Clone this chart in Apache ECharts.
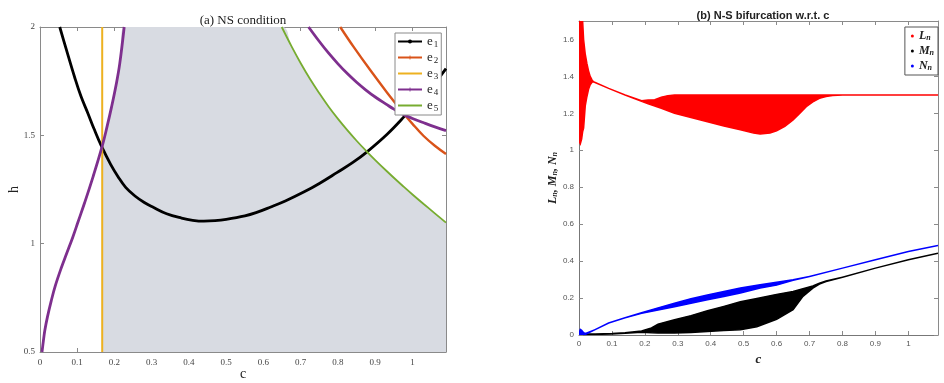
<!DOCTYPE html>
<html>
<head>
<meta charset="utf-8">
<script src="https://cdn.jsdelivr.net/npm/echarts@6/dist/echarts.min.js"></script>
<style>
  html, body { margin: 0; padding: 0; background: #fff; }
  #chart { width: 944px; height: 383px; }
</style>
</head>
<body>
<div id="chart"></div>
<script>
// panel (a): NS condition curves
const e1C = [0.053, 0.07, 0.093, 0.11, 0.129, 0.145, 0.165, 0.19, 0.21, 0.23, 0.255, 0.28, 0.304, 0.34, 0.38, 0.41, 0.44, 0.47, 0.50, 0.55, 0.58, 0.618, 0.66, 0.708, 0.75, 0.797, 0.84, 0.878, 0.932, 0.977, 1.02, 1.066, 1.09]
const e1H = [2.0, 1.9, 1.768, 1.68, 1.60, 1.53, 1.45, 1.365, 1.308, 1.26, 1.22, 1.19, 1.168, 1.138, 1.118, 1.108, 1.104, 1.106, 1.112, 1.128, 1.143, 1.168, 1.198, 1.238, 1.278, 1.328, 1.375, 1.424, 1.505, 1.585, 1.668, 1.755, 1.808]

const e2C = [0.806, 0.842, 0.887, 0.932, 0.977, 1.0, 1.03, 1.06, 1.09]
const e2H = [2.0, 1.908, 1.80, 1.697, 1.60, 1.553, 1.497, 1.452, 1.414]

const e3C = 0.167
const e3H = [0.5, 2.0]

const e4LeftC = [0.0054, 0.009, 0.013, 0.02, 0.03, 0.041, 0.0575, 0.071, 0.088, 0.102, 0.12, 0.143, 0.167, 0.18, 0.192, 0.204, 0.214, 0.226]
const e4LeftH = [0.5, 0.55, 0.60, 0.662, 0.735, 0.805, 0.89, 0.952, 1.03, 1.10, 1.19, 1.312, 1.45, 1.54, 1.63, 1.73, 1.83, 2.0]
const e4RightC = [0.721, 0.75, 0.775, 0.80, 0.825, 0.85, 0.875, 0.90, 0.93, 0.95, 0.977, 1.0, 1.03, 1.06, 1.09]
const e4RightH = [2.0, 1.933, 1.879, 1.830, 1.785, 1.745, 1.709, 1.677, 1.643, 1.621, 1.595, 1.578, 1.558, 1.539, 1.522]

const e5C = [0.649, 0.675, 0.70, 0.725, 0.75, 0.775, 0.80, 0.825, 0.85, 0.878, 0.90, 0.932, 0.955, 0.977, 1.0, 1.03, 1.06, 1.09]
const e5H = [2.0, 1.912, 1.833, 1.760, 1.694, 1.632, 1.576, 1.524, 1.475, 1.424, 1.386, 1.333, 1.296, 1.262, 1.227, 1.183, 1.14, 1.097]

// panel (b): bifurcation bands (lower / upper envelope per c)
const lnC  = [0, 0.004, 0.008, 0.011, 0.014, 0.019, 0.024, 0.029, 0.034, 0.040, 0.044, 0.09, 0.14, 0.19, 0.21, 0.23, 0.25, 0.27, 0.29, 0.34, 0.39, 0.44, 0.49, 0.53, 0.55, 0.58, 0.60, 0.625, 0.65, 0.67, 0.69, 0.71, 0.73, 0.75, 0.77, 0.80, 1.09]
const lnLo = [1.05, 1.035, 1.06, 1.10, 1.12, 1.24, 1.29, 1.33, 1.355, 1.37, 1.371, 1.335, 1.299, 1.265, 1.252, 1.240, 1.228, 1.214, 1.201, 1.177, 1.155, 1.132, 1.111, 1.093, 1.088, 1.094, 1.106, 1.13, 1.164, 1.20, 1.236, 1.262, 1.281, 1.291, 1.296, 1.299, 1.299]
const lnHi = [1.70, 1.70, 1.70, 1.70, 1.60, 1.52, 1.47, 1.43, 1.40, 1.38, 1.371, 1.335, 1.299, 1.268, 1.272, 1.274, 1.288, 1.296, 1.299, 1.299, 1.299, 1.299, 1.299, 1.299, 1.299, 1.299, 1.299, 1.299, 1.299, 1.299, 1.299, 1.299, 1.299, 1.299, 1.299, 1.299, 1.299]

const mnC  = [0, 0.05, 0.10, 0.14, 0.19, 0.22, 0.24, 0.29, 0.34, 0.39, 0.44, 0.49, 0.54, 0.60, 0.65, 0.68, 0.71, 0.73, 0.75, 0.80, 0.90, 1.00, 1.09]
const mnLo = [0.0, 0.003, 0.006, 0.010, 0.015, 0.012, 0.011, 0.011, 0.014, 0.019, 0.024, 0.029, 0.045, 0.085, 0.137, 0.209, 0.254, 0.276, 0.290, 0.313, 0.362, 0.407, 0.443]
const mnHi = [0.005, 0.005, 0.008, 0.012, 0.022, 0.038, 0.059, 0.083, 0.105, 0.131, 0.155, 0.180, 0.198, 0.220, 0.236, 0.250, 0.265, 0.281, 0.292, 0.313, 0.362, 0.407, 0.443]

const nnC  = [0, 0.004, 0.008, 0.014, 0.02, 0.049, 0.09, 0.14, 0.19, 0.24, 0.29, 0.34, 0.39, 0.44, 0.49, 0.55, 0.60, 0.65, 0.70, 0.80, 0.90, 1.00, 1.09]
const nnLo = [0.0, 0.0, 0.0, 0.0, 0.004, 0.029, 0.065, 0.093, 0.117, 0.135, 0.153, 0.172, 0.191, 0.209, 0.227, 0.254, 0.270, 0.296, 0.317, 0.362, 0.407, 0.452, 0.484]
const nnHi = [0.01, 0.03, 0.025, 0.012, 0.008, 0.029, 0.065, 0.093, 0.121, 0.147, 0.172, 0.196, 0.217, 0.236, 0.254, 0.272, 0.285, 0.299, 0.317, 0.362, 0.407, 0.452, 0.484]

const xTicks = [0, 0.1, 0.2, 0.3, 0.4, 0.5, 0.6, 0.7, 0.8, 0.9, 1]

const serif = 'Liberation Serif'
const sans = 'Liberation Sans'
const plus = 'path://M4,0H6V4H10V6H6V10H4V6H0V4H4Z'

const pairs = (xs, ys) => xs.map((x, i) => [x, ys[i]])

// gray admissible region: right of e3 / e4 (left branch), below e5
const shade = pairs(e4LeftC, e4LeftH).filter(p => p[0] >= e3C).concat(pairs(e5C, e5H))

const chart = echarts.init(document.getElementById('chart'))

const boxAxisX = (grid, pos, opts) => Object.assign({
    gridIndex: grid, type: 'value', position: pos, min: 0, max: 1.09, interval: 0.1,
    axisLine: { onZero: false, lineStyle: { color: '#8a8a8a', width: 1 } },
    axisTick: { inside: true, length: 4, lineStyle: { color: '#8a8a8a' } },
    axisLabel: { show: false },
    splitLine: { show: false }
}, opts)

const boxAxisY = (grid, pos, opts) => Object.assign({
    gridIndex: grid, type: 'value', position: pos,
    axisLine: { show: true, onZero: false, lineStyle: { color: '#8a8a8a', width: 1 } },
    axisTick: { show: true, inside: true, length: 4, lineStyle: { color: '#8a8a8a' } },
    axisLabel: { show: false },
    splitLine: { show: false }
}, opts)

const band = (name, color, cs, lo, hi) => ({
    type: 'custom',
    name: name,
    xAxisIndex: 2,
    yAxisIndex: 2,
    clip: true,
    itemStyle: { color: color },
    data: cs.map((c, i) => [c, lo[i], hi[i]]),
    encode: { x: 0, y: [1, 2] },
    renderItem: (params, api) => {
        if (params.dataIndex !== 0) return null
        const top = cs.map((c, i) => api.coord([c, hi[i]]))
        const bot = cs.map((c, i) => api.coord([c, lo[i]])).reverse()
        return {
            type: 'polygon',
            shape: { points: top.concat(bot) },
            style: { fill: color, stroke: color, lineWidth: 1.5 }
        }
    }
})

const curve = (name, data, color, width, symbol) => ({
    type: 'line',
    name: name,
    xAxisIndex: 0,
    yAxisIndex: 0,
    data: data,
    smooth: 0.4,
    showSymbol: false,
    symbol: symbol || 'none',
    lineStyle: { color: color, width: width },
    itemStyle: { color: color },
    emphasis: { disabled: true }
})

const subRich = {
    e: { fontFamily: serif, fontSize: 13, lineHeight: 10, color: '#222' },
    s: { fontFamily: serif, fontSize: 9, lineHeight: 8, padding: [6, 0, 0, 1], color: '#222' }
}

const option = {
    animation: false,
    backgroundColor: '#fff',
    title: [
        { text: '(a) NS condition', left: 238, top: 9, textAlign: 'center',
          textStyle: { fontFamily: serif, fontSize: 13, fontWeight: 'normal', color: '#222' } },
        { text: '(b) N-S bifurcation w.r.t. c', left: 758, top: 5, textAlign: 'center',
          textStyle: { fontFamily: sans, fontSize: 11, fontWeight: 'bold', color: '#222' } }
    ],
    grid: [
        { left: 40, top: 27, right: 498, bottom: 31, outerBoundsMode: 'none', containLabel: false },
        { left: 579, top: 21, right: 6, bottom: 48, outerBoundsMode: 'none', containLabel: false }
    ],
    legend: [
        {
            data: [
                { name: 'e1' },
                { name: 'e2' },
                { name: 'e3', itemStyle: { opacity: 0 } },
                { name: 'e4' },
                { name: 'e5', itemStyle: { opacity: 0 } }
            ],
            orient: 'vertical', left: 395, top: 33,
            padding: [1, 3, 2, 2], itemGap: 1, itemWidth: 24, itemHeight: 5,
            borderColor: '#8a8a8a', borderWidth: 1, backgroundColor: '#fff',
            formatter: name => '{e|e}{s|' + name.slice(1) + '}',
            textStyle: { color: '#222', rich: subRich }
        },
        {
            data: ['Ln', 'Mn', 'Nn'],
            orient: 'vertical', right: 6, top: 27,
            padding: [3, 4, 3, 6], itemGap: 3, itemWidth: 3, itemHeight: 3, icon: 'circle',
            borderColor: '#555', borderWidth: 1, backgroundColor: '#fff',
            formatter: name => '{i|' + name[0] + '}{s|n}',
            textStyle: {
                rich: {
                    i: { fontFamily: serif, fontStyle: 'italic', fontWeight: 'bold', fontSize: 12, lineHeight: 10, color: '#222' },
                    s: { fontFamily: serif, fontStyle: 'italic', fontWeight: 'bold', fontSize: 8, lineHeight: 8, padding: [4, 0, 0, 0], color: '#222' }
                }
            }
        }
    ],
    xAxis: [
        boxAxisX(0, 'bottom', {
            name: 'c', nameLocation: 'middle', nameGap: 15, nameMoveOverlap: false,
            nameTextStyle: { fontFamily: serif, fontSize: 14, color: '#222' },
            axisLabel: { show: true, fontFamily: serif, fontSize: 9, color: '#444', margin: 6, showMaxLabel: false,
                         formatter: v => xTicks.includes(Math.round(v * 10) / 10) ? String(Math.round(v * 10) / 10) : '' }
        }),
        boxAxisX(0, 'top', {}),
        boxAxisX(1, 'bottom', {
            name: 'c', nameLocation: 'middle', nameGap: 15,
            nameTextStyle: { fontFamily: serif, fontSize: 13, fontStyle: 'italic', fontWeight: 'bold', color: '#222' },
            axisLine: { onZero: false, lineStyle: { color: '#777', width: 1 } },
            axisLabel: { show: true, fontFamily: sans, fontSize: 8, color: '#555', margin: 5, showMaxLabel: false,
                         formatter: v => xTicks.includes(Math.round(v * 10) / 10) ? String(Math.round(v * 10) / 10) : '' }
        }),
        boxAxisX(1, 'top', {})
    ],
    yAxis: [
        boxAxisY(0, 'left', {
            min: 0.5, max: 2, interval: 0.5,
            name: 'h', nameLocation: 'middle', nameGap: 19, nameMoveOverlap: false,
            nameTextStyle: { fontFamily: serif, fontSize: 14, color: '#222' },
            axisLabel: { show: true, fontFamily: serif, fontSize: 9, color: '#444', margin: 5 }
        }),
        boxAxisY(0, 'right', { min: 0.5, max: 2, interval: 0.5 }),
        boxAxisY(1, 'left', {
            min: 0, max: 1.7, interval: 0.2,
            name: '{i|L}{s|n}{i|, M}{s|n}{i|, N}{s|n}', nameLocation: 'middle', nameGap: 21,
            nameTextStyle: {
                rich: {
                    i: { fontFamily: serif, fontStyle: 'italic', fontWeight: 'bold', fontSize: 12, lineHeight: 10, color: '#222' },
                    s: { fontFamily: serif, fontStyle: 'italic', fontWeight: 'bold', fontSize: 8, lineHeight: 8, padding: [4, 0, 0, 0], color: '#222' }
                }
            },
            axisLine: { show: true, onZero: false, lineStyle: { color: '#777', width: 1 } },
            axisLabel: { show: true, fontFamily: sans, fontSize: 8, color: '#555', margin: 5, showMaxLabel: false }
        }),
        boxAxisY(1, 'right', { min: 0, max: 1.7, interval: 0.2 })
    ],
    series: [
        {
            type: 'line',
            name: 'region',
            xAxisIndex: 0,
            yAxisIndex: 0,
            data: shade,
            smooth: 0.4,
            showSymbol: false,
            symbol: 'none',
            lineStyle: { width: 0 },
            areaStyle: { color: '#d8dbe2', opacity: 1, origin: 'start' },
            z: 1,
            silent: true
        },
        curve('e1', pairs(e1C, e1H), '#000000', 2.8, 'circle'),
        curve('e2', pairs(e2C, e2H), '#d95319', 2.4, plus),
        {
            type: 'line', name: 'e3', xAxisIndex: 0, yAxisIndex: 0,
            data: e3H.map(h => [e3C, h]),
            showSymbol: false, symbol: 'none',
            lineStyle: { color: '#edb120', width: 2 },
            itemStyle: { color: '#edb120' }
        },
        curve('e4', pairs(e4LeftC, e4LeftH), '#7e2f8e', 2.8, plus),
        curve('e4', pairs(e4RightC, e4RightH), '#7e2f8e', 2.8, plus),
        curve('e5', pairs(e5C, e5H), '#77ac30', 1.8),
        band('Ln', '#ff0000', lnC, lnLo, lnHi),
        band('Mn', '#000000', mnC, mnLo, mnHi),
        band('Nn', '#0000ff', nnC, nnLo, nnHi)
    ]
}

chart.setOption(option)
</script>
</body>
</html>
